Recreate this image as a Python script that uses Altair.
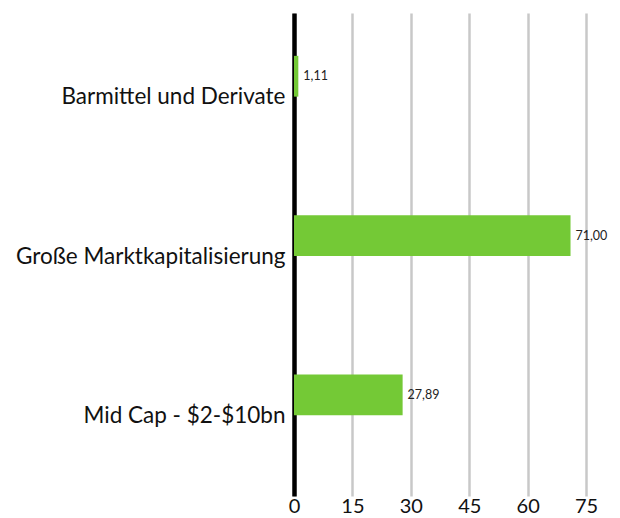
import altair as alt
import pandas as pd

categories = ["Barmittel und Derivate", "Große Marktkapitalisierung", "Mid Cap - $2-$10bn"]
values = [1.11, 71.00, 27.89]

df = pd.DataFrame({"cat": categories, "v": values})

y_enc = alt.Y(
    "cat:N",
    sort=categories,
    title=None,
    scale=alt.Scale(paddingInner=0.744, paddingOuter=0.3875, align=0.347),
    axis=alt.Axis(
        domain=True, domainColor="#000000", domainWidth=4.5,
        ticks=False, grid=False,
        labelFont="Lato", labelFontSize=22.5, labelColor="#111111",
        labelPadding=9, labelOffset=21, labelLimit=400,
    ),
)
x_enc = alt.X(
    "v:Q",
    title=None,
    scale=alt.Scale(domain=[0, 76], nice=False, zero=True),
    axis=alt.Axis(
        values=[0, 15, 30, 45, 60, 75], domain=False, ticks=False,
        grid=True, gridColor="#c8c8c8", gridWidth=2.5,
        labelFont="Lato", labelFontSize=20, labelColor="#111111",
        labelPadding=0, labelAlign="center",
    ),
)

bars = alt.Chart(df).mark_bar(color="#74C936").encode(x=x_enc, y=y_enc)

text = alt.Chart(df).transform_calculate(
    lab="replace(format(datum.v, '.2f'), '.', ',')"
).mark_text(align="left", baseline="middle", dx=5, fontSize=12.5, font="Lato", color="#222222").encode(
    x=alt.X("v:Q"), y=alt.Y("cat:N", sort=categories), text="lab:N"
)

chart = alt.layer(bars, text).properties(
    width=296, height=483,
    autosize=alt.AutoSizeParams(type="none"),
    padding={"left": 286, "top": 5, "right": 22, "bottom": 22},
).configure_view(stroke=None)

chart.save("out.html", embed_options={"renderer": "svg", "actions": False})
